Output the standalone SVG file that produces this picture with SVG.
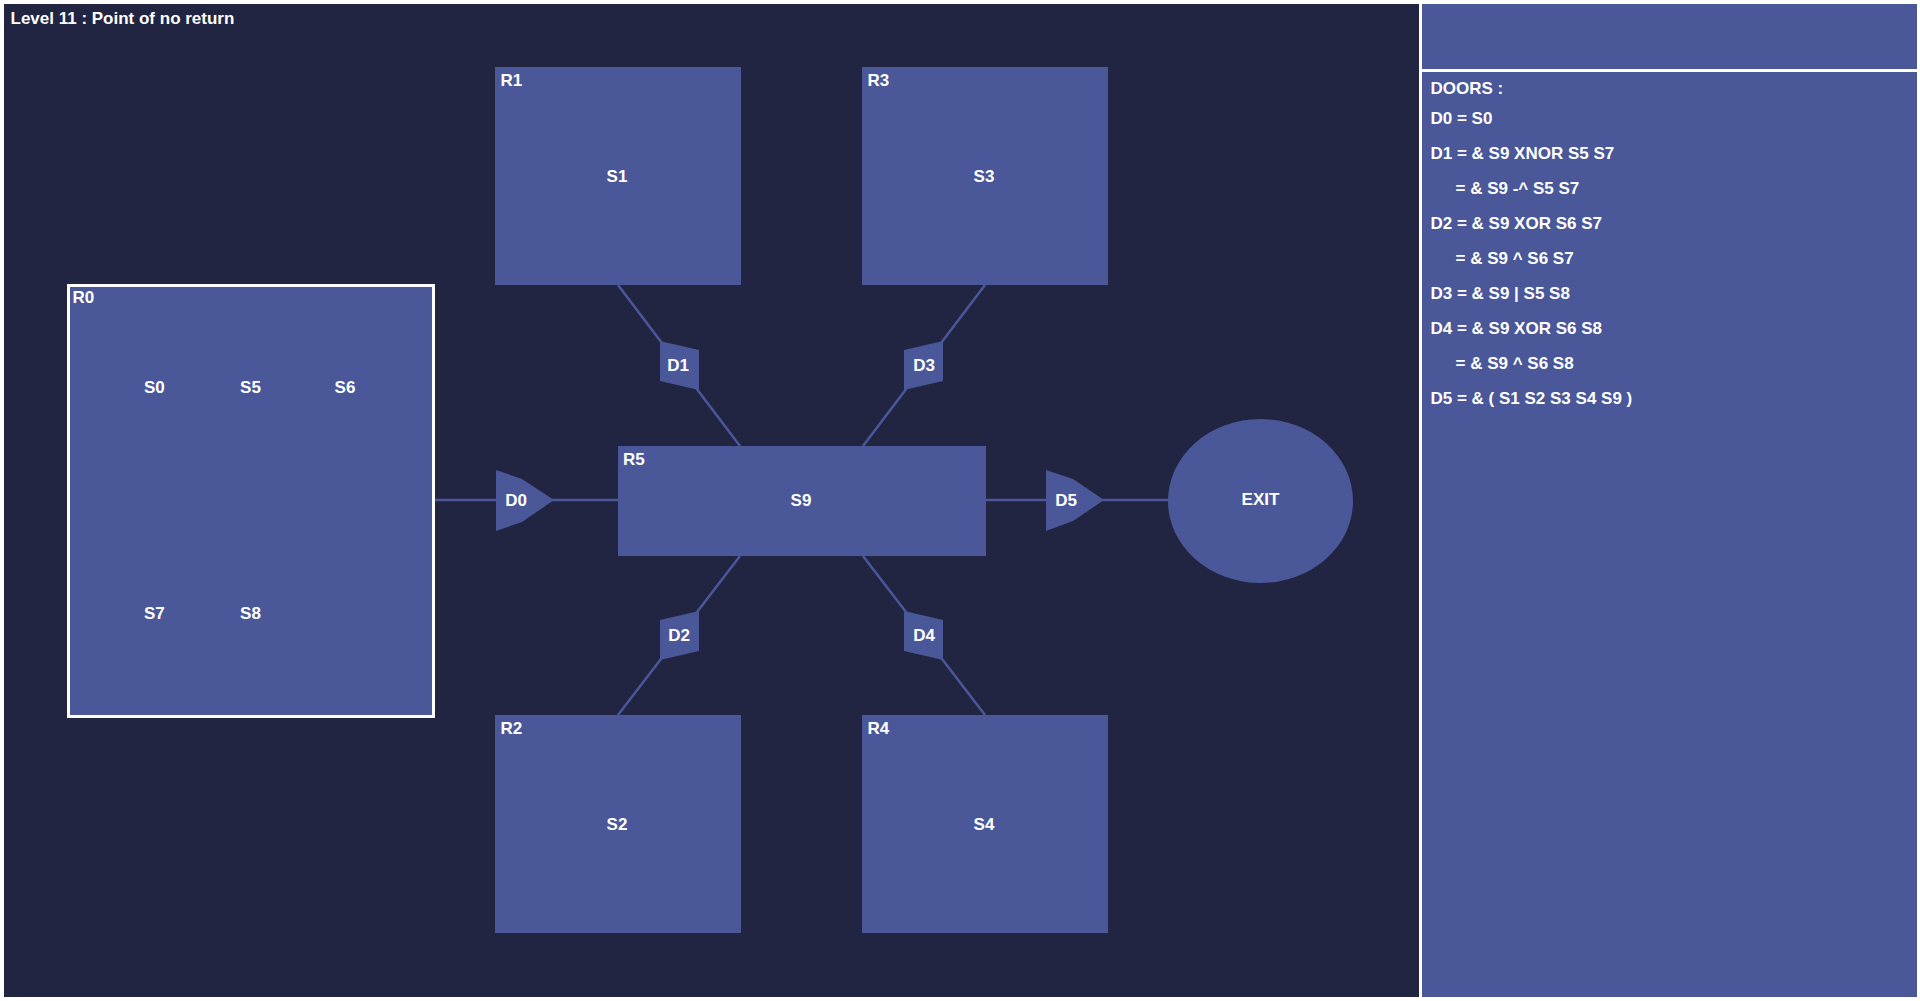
<svg xmlns="http://www.w3.org/2000/svg" width="1920" height="1001" viewBox="0 0 1920 1001">
<style>
text{font-family:"Liberation Sans",Arial,sans-serif;font-weight:bold;font-size:17px;fill:#ffffff}
.c{text-anchor:middle}
.room{fill:#4a5799}
.door{fill:#4a5799}
.conn line{stroke:#4a5799;stroke-width:2.5}
</style>
<rect x="0" y="0" width="1920" height="1001" fill="#ffffff"/>
<rect id="board" x="4" y="4" width="1415" height="993" fill="#222541"/>
<rect id="topPanel" x="1422" y="4" width="495" height="65" fill="#4a5799"/>
<rect id="sidePanel" x="1422" y="72" width="495" height="925" fill="#4a5799"/>
<text x="10.5" y="24">Level 11 : Point of no return</text>
<g id="legend">
<text x="1430.5" y="94">DOORS :</text>
<text x="1430.5" y="124">D0 = S0</text>
<text x="1430.5" y="159">D1 = &amp; S9 XNOR S5 S7</text>
<text x="1455.5" y="194">= &amp; S9 -^ S5 S7</text>
<text x="1430.5" y="229">D2 = &amp; S9 XOR S6 S7</text>
<text x="1455.5" y="264">= &amp; S9 ^ S6 S7</text>
<text x="1430.5" y="299">D3 = &amp; S9 | S5 S8</text>
<text x="1430.5" y="334">D4 = &amp; S9 XOR S6 S8</text>
<text x="1455.5" y="369">= &amp; S9 ^ S6 S8</text>
<text x="1430.5" y="404">D5 = &amp; ( S1 S2 S3 S4 S9 )</text>
</g>
<g id="connectors" class="conn">
<line x1="435" y1="500" x2="618" y2="500"/>
<line x1="618" y1="285" x2="740" y2="446"/>
<line x1="985" y1="285" x2="863" y2="446"/>
<line x1="618" y1="715" x2="740" y2="556"/>
<line x1="985" y1="715" x2="863" y2="556"/>
<line x1="986" y1="500" x2="1168" y2="500"/>
</g>
<g id="R0">
<rect x="68.5" y="285.5" width="365" height="431" class="room" stroke="#ffffff" stroke-width="3"/>
<text x="72.5" y="303">R0</text>
<text class="c" x="154.3" y="393">S0</text>
<text class="c" x="250.5" y="393">S5</text>
<text class="c" x="345" y="393">S6</text>
<text class="c" x="154.3" y="619">S7</text>
<text class="c" x="250.5" y="619">S8</text>
</g>
<g id="R1">
<rect x="495" y="67" width="246" height="218" class="room"/>
<text x="500.5" y="86">R1</text>
<text class="c" x="617" y="182">S1</text>
</g>
<g id="R3">
<rect x="862" y="67" width="246" height="218" class="room"/>
<text x="867.5" y="86">R3</text>
<text class="c" x="984" y="182">S3</text>
</g>
<g id="R2">
<rect x="495" y="715" width="246" height="218" class="room"/>
<text x="500.5" y="734">R2</text>
<text class="c" x="617" y="830">S2</text>
</g>
<g id="R4">
<rect x="862" y="715" width="246" height="218" class="room"/>
<text x="867.5" y="734">R4</text>
<text class="c" x="984" y="830">S4</text>
</g>
<g id="R5">
<rect x="618" y="446" width="368" height="110" class="room"/>
<text x="623" y="465">R5</text>
<text class="c" x="801" y="506">S9</text>
</g>
<g id="EXIT">
<ellipse cx="1260.5" cy="501" rx="92.5" ry="82" class="room"/>
<text class="c" x="1260.5" y="504.5">EXIT</text>
</g>
<g id="D0">
<polygon class="door" points="496,470 522,479 554,500 522,522 496,531"/>
<text class="c" x="516" y="506">D0</text>
</g>
<g id="D1">
<polygon class="door" points="660,341 699,350 699,390 660,381"/>
<text class="c" x="678" y="371">D1</text>
</g>
<g id="D3">
<polygon class="door" points="943,341 904,350 904,390 943,381"/>
<text class="c" x="924" y="371">D3</text>
</g>
<g id="D2">
<polygon class="door" points="660,660 699,651 699,611 660,620"/>
<text class="c" x="679" y="641">D2</text>
</g>
<g id="D4">
<polygon class="door" points="943,660 904,651 904,611 943,620"/>
<text class="c" x="924" y="641">D4</text>
</g>
<g id="D5">
<polygon class="door" points="1046,470 1073,479 1104,500 1073,521 1046,531"/>
<text class="c" x="1066" y="506">D5</text>
</g>
</svg>
